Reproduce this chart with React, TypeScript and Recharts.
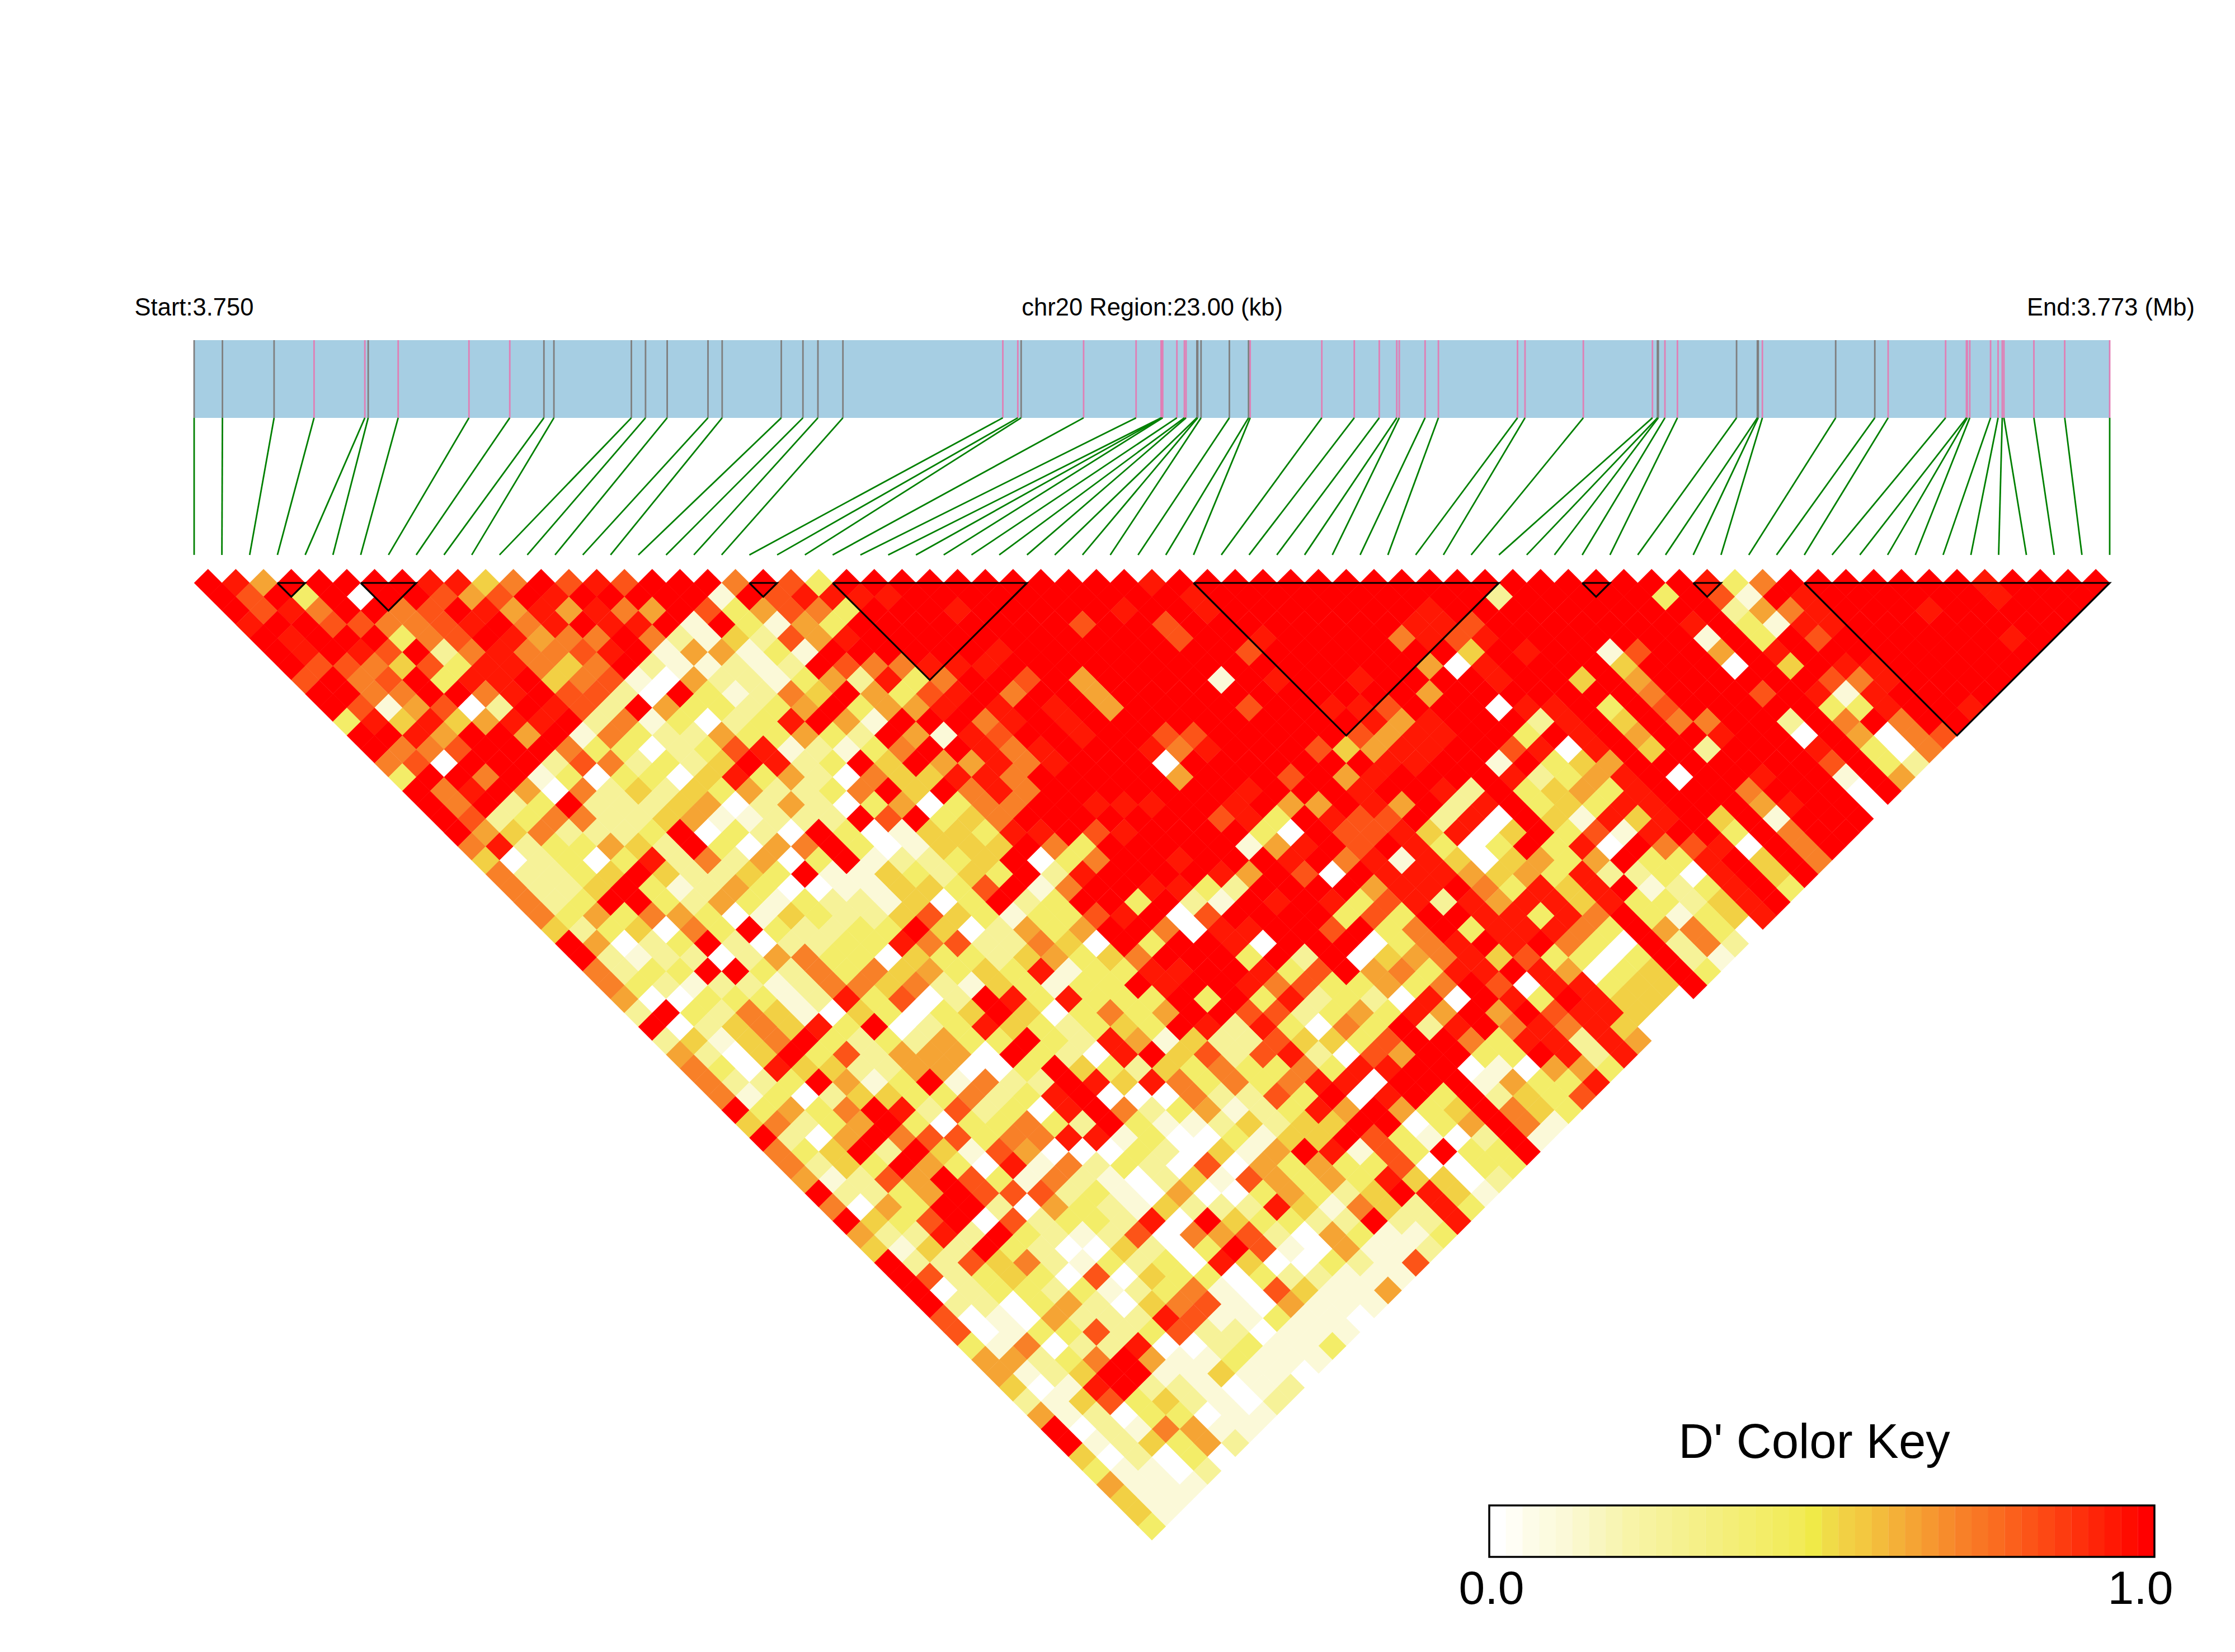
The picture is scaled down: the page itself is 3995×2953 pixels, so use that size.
import React from "react";
import { ScatterChart, Scatter, XAxis, YAxis, ReferenceArea, ReferenceLine, BarChart, Bar, Cell } from "recharts";

const regionKb = 23;
const snpPositionsKb = [
  0, 0.34, 0.96, 1.44, 2.05, 2.09, 2.45, 3.3, 3.79, 4.2,
  4.32, 5.25, 5.42, 5.68, 6.17, 6.34, 7.05, 7.31, 7.49, 7.79,
  9.71, 9.89, 9.93, 10.68, 11.31, 11.61, 11.62, 11.63, 11.8, 11.89,
  11.91, 12.04, 12.05, 12.09, 12.43, 12.66, 12.68, 13.54, 13.93, 14.23,
  14.44, 14.47, 14.78, 14.94, 15.89, 15.98, 16.68, 17.51, 17.57, 17.58,
  17.66, 17.81, 18.52, 18.77, 18.78, 18.83, 19.71, 20.18, 20.34, 21.03,
  21.28, 21.29, 21.32, 21.57, 21.66, 21.71, 21.73, 22.09, 22.46, 23,
];
const snpKinds = "gggppgpppggggggggggg" + "ppgpppppppp" + "ggggg" + "pppppppppppp" + "ggpp" + "gggp" + "ggpppppppppppp";

const ldBlocks = [[3, 4], [6, 8], [20, 21], [23, 30], [36, 47], [50, 51], [54, 55], [58, 69]];

const levelToDPrime = [0, 0.1, 0.25, 0.42, 0.53, 0.63, 0.72, 0.82, 0.94, 1];

const colorKey = [
  "#ffffff", "#fffef5", "#fdfce8", "#fcfbe0", "#fbf9d8", "#faf8cc", "#f9f6c0", "#f8f5b4", "#f8f4a8", "#f7f3a0",
  "#f6f298", "#f5f190", "#f5f088", "#f4ef80", "#f4ee78", "#f3ee70", "#f3ed68", "#f2ec60", "#f2eb58", "#f0ea48",
  "#f0dc48", "#f2d044", "#f3c840", "#f3bc3c", "#f4b038", "#f5a434", "#f69830", "#f78c2c", "#f88028", "#f97624",
  "#fa6c20", "#fb601c", "#fc5418", "#fd4814", "#fd3c10", "#fe300c", "#fe2408", "#ff1804", "#ff0c00", "#ff0000",
];

// One string per SNP separation (1, 2, ... 69); each digit is a D' level for the pair (i, i + separation).
const ldRows = [
  "985 99999 88 4 6 9 7 8 7 999 6 9 7 3 9 9999999999 8 9999999999 999999999 8 36 9999999 8 9999",
  "97939099757989999919 78888 9999999999 8 9999999999 2 99999 397198 999999 8 999",
  "9786996798585865973 5763 999 8 99999 8 99 8 9999999 8 9999999999 2568 999 8 99999",
  "8997766789689889193 153 99999999 7 99 7 99999999 887 9999999 893188 99999999",
  "989993679856696214 2758 99999999999 7 99 8 9999 6878 9999999 19397 999999 8 9",
  "989879268667891551 31 999999 8 99999999 7 9999999 498 99 17 99 598 999999999",
  "97764738864692112 129766888 999999999999999 508 9999 4 999 094988 99999",
  "7967938894671052 21352836 99 795 9999 198 99 8 9999 8 99 4 9 5 999999 768 9999",
  "9966996897720931 2649537896 99 5 99999999999 5 9999999 6 999 79818 9999",
  "971570298729533 23593558989895 9999 7 99 887 999 0889397 99999 338 99 8",
  "384845889261302 389519996898 9999999999 858 999 2894966 99 29696 99",
  "99859959163225 3353295187 99 8 99 77 99999 7588 99 39895 99 8 99 095067",
  "96679996330237 81213699868 999 868 999 74588 99 78089492 999 89306",
  "67099927623249 82394955868 999 0 9 999 999 88 99 19345 9999999 7932",
  "3996913033048 3520644886 99999 5 999 7958 9999 8235890 99 8 99 195",
  "9689506242435 2236949686 9999999 8 999 89982934538 999 6 999 0 9",
  "969239222450 2520350366 99 888 99 8 9 55985928934388 999 58 99 0",
  "972366224511 222979346 9999999 783987792809418489491 999",
  "95462223903 20930144388978 9999 3097784804937189939699",
  "68233542930 5693014449639 9999 1589798303938096780969",
  "4023038262 5039122349 0369989998 9681840453 593389 496",
  "6223494224 3911432439 2899998597 0988854538 22308949",
  "6224931253 0011443791 6998832999 9588963848 9123893",
  "6239932531 3221403923 9939219898 3782858848 332489",
  "6353653014 3224743133 7890799993 7399883869 31348",
  "4234063932 2339402535 9960889979 3693888639 5630",
  "9502392022 3386722640 9399809990 3689896309 262",
  "9212202563 3043324534 6999392904 5684733039 21",
  "6233993263 6453438133 8899837956 3889850349 3",
  "6321221266 4621431339 8998673353 6970883449",
  "5003331283 7029838333 9393823208 098398440",
  "2932641043 0349403635 9977235385 95978840",
  "9024648390 2384323439 8283063928 9686840",
  "2414693232 5339328514 2274437996 388285",
  "5204937255 5093208947 2782075993 39828",
  "6308442255 0039432436 3363889901 0553",
  "6223951391 6229848636 3688099915 338",
  "6130244336 2389000622 7390893924 37",
  "9353698272 3089623512 3859534964 3",
  "4623593033 6329311242 4499035961",
  "9205967736 6881300314 497310291",
  "6349294175 0003204159 81739339",
  "6243953081 6232070535 3370033",
  "5127597316 2102417535 384402",
  "9223597772 3105003532 49841",
  "6053992053 2142228416 4283",
  "9437907233 2809433229 228",
  "5228293212 7065720531 13",
  "4142932004 2039710511 2",
  "9227462132 3084003217",
  "9723430704 330322111",
  "9023323123 61074115",
  "9220352046 7105111",
  "7010522287 113110",
  "7013372372 20111",
  "3160228002 3113",
  "5523695113111",
  "512499114110",
  "40189221012",
  "2147342102",
  "512033011",
  "90216511",
  "9124352",
  "402030",
  "31102",
  "5111",
  "411",
  "41",
  "3",
];

const FONT = "'Liberation Sans', Arial, sans-serif";
const BLUE = "#a6cee3";
const GREY = "#7f7f7f";
const PINK = "#e07fb5";
const GREEN = "#008000";

const snpCount = snpPositionsKb.length;
const gridKb = (i: number) => (i * regionKb) / (snpCount - 1);

const BAR_TOP = -16.5;
const BAR_BOTTOM = -10.9;
const LINK_END = -1.02;

const ldCells = ldRows.flatMap((row, k) => {
  const d = k + 1;
  return row
    .replace(/\s/g, "")
    .split("")
    .map((ch, i) => ({ x: gridKb(i + d / 2), y: d, dPrime: levelToDPrime[Number(ch)] }));
});

const blockOutlines = ldBlocks.map(([a, b]) => [
  { x: gridKb(a), y: 1 },
  { x: gridKb(b), y: 1 },
  { x: gridKb((a + b) / 2), y: 1 + (b - a) },
  { x: gridKb(a), y: 1 },
]);

const keyData = colorKey.map((fill, i) => ({ step: i, v: 1, fill }));

const Diamond = (props: any) => {
  const { cx, cy, payload } = props;
  const hw = 25.05;
  const hh = 25.0;
  const idx = Math.min(colorKey.length - 1, Math.floor(payload.dPrime * colorKey.length));
  return <path d={`M${cx - hw},${cy}L${cx},${cy - hh}L${cx + hw},${cy}L${cx},${cy + hh}Z`} fill={colorKey[idx]} />;
};
const NoMark = () => <g />;

export default function App() {
  return (
    <div style={{ position: "absolute", left: 0, top: 0, width: 3995, height: 2953, background: "#fff", overflow: "hidden" }}>
      <ScatterChart width={3995} height={2953} margin={{ top: 1017.2, right: 224, bottom: 199.8, left: 347 }}>
        <XAxis type="number" dataKey="x" domain={[0, regionKb]} hide />
        <YAxis type="number" dataKey="y" domain={[0, 70]} reversed hide />
        <ReferenceArea x1={0} x2={regionKb} y1={BAR_TOP} y2={BAR_BOTTOM} fill={BLUE} fillOpacity={1} stroke="none" ifOverflow="visible" />
        {snpPositionsKb.map((p, i) => (
          <ReferenceLine
            key={"t" + i}
            segment={[{ x: p, y: BAR_TOP }, { x: p, y: BAR_BOTTOM }]}
            stroke={snpKinds[i] === "g" ? GREY : PINK}
            strokeWidth={2.8}
            ifOverflow="visible"
          />
        ))}
        {snpPositionsKb.map((p, i) => (
          <ReferenceLine
            key={"l" + i}
            segment={[{ x: p, y: BAR_BOTTOM }, { x: gridKb(i), y: LINK_END }]}
            stroke={GREEN}
            strokeWidth={2.8}
            ifOverflow="visible"
          />
        ))}
        <Scatter data={ldCells} shape={Diamond} isAnimationActive={false} />
        {blockOutlines.map((pts, i) => (
          <Scatter
            key={"b" + i}
            data={pts}
            shape={NoMark}
            line={{ stroke: "#000", strokeWidth: 3.2 }}
            isAnimationActive={false}
          />
        ))}
      </ScatterChart>

      <div style={{ position: "absolute", left: 2662, top: 2691, width: 1189, height: 92 }}>
        <BarChart width={1189} height={92} data={keyData} margin={{ top: 0, right: 0, bottom: 0, left: 0 }} barCategoryGap={0} barGap={0}>
          <XAxis dataKey="step" hide />
          <YAxis domain={[0, 1]} hide />
          <Bar dataKey="v" isAnimationActive={false}>
            {keyData.map((k) => (
              <Cell key={k.step} fill={k.fill} />
            ))}
          </Bar>
        </BarChart>
      </div>

      <svg width={3995} height={2953} style={{ position: "absolute", left: 0, top: 0, pointerEvents: "none" }}>
        <rect x={2662} y={2691} width={1189} height={92} fill="none" stroke="#000" strokeWidth={3.5} />
        <g fontFamily={FONT} fill="#000">
          <text x={347} y={564} fontSize={43.5} textAnchor="middle">Start:3.750</text>
          <text x={2059.7} y={564} fontSize={43.5} textAnchor="middle">chr20 Region:23.00 (kb)</text>
          <text x={3773} y={564} fontSize={43.5} textAnchor="middle">End:3.773 (Mb)</text>
          <text x={3243} y={2606} fontSize={87} textAnchor="middle">D' Color Key</text>
          <text x={2666} y={2867} fontSize={84} textAnchor="middle">0.0</text>
          <text x={3826} y={2867} fontSize={84} textAnchor="middle">1.0</text>
        </g>
      </svg>
    </div>
  );
}
